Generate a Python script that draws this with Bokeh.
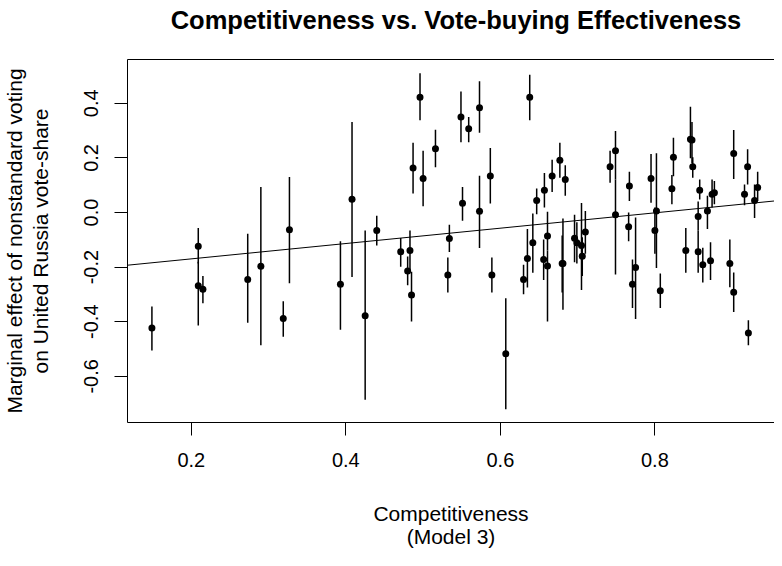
from bokeh.plotting import figure
from bokeh.layouts import column
from bokeh.models import Range1d, FixedTicker, LinearAxis, Slope, ColumnDataSource, Label
from bokeh.embed import file_html
from bokeh.resources import INLINE

# Competitiveness (x), marginal effect (y), and interval bounds
competitiveness = [0.149, 0.209, 0.209, 0.215, 0.273, 0.290, 0.319, 0.327, 0.393, 0.408,
                   0.425, 0.440, 0.471, 0.480, 0.483, 0.485, 0.487, 0.496, 0.500, 0.516,
                   0.532, 0.534, 0.549, 0.551, 0.559, 0.573, 0.573, 0.587, 0.589, 0.607,
                   0.630, 0.635, 0.638, 0.642, 0.647, 0.656, 0.657, 0.661, 0.661, 0.667,
                   0.677, 0.680, 0.681, 0.684, 0.696, 0.699, 0.705, 0.706, 0.710, 0.742,
                   0.749, 0.749, 0.766, 0.767, 0.771, 0.775, 0.795, 0.800, 0.802, 0.807,
                   0.822, 0.824, 0.840, 0.846, 0.848, 0.849, 0.856, 0.856, 0.858, 0.862,
                   0.868, 0.872, 0.874, 0.877, 0.897, 0.902, 0.902, 0.916, 0.920, 0.921,
                   0.929, 0.933]
effect = [-0.423, -0.124, -0.268, -0.281, -0.245, -0.197, -0.388, -0.063, -0.263, 0.049,
          -0.378, -0.066, -0.144, -0.214, -0.139, -0.302, 0.163, 0.422, 0.125, 0.234,
          -0.229, -0.095, 0.350, 0.034, 0.307, 0.384, 0.005, 0.134, -0.229, -0.517,
          -0.245, -0.168, 0.422, -0.111, 0.044, -0.172, 0.082, -0.086, -0.196, 0.134,
          0.191, -0.187, -0.187, 0.121, -0.094, -0.111, -0.121, -0.160, -0.071, 0.168,
          0.226, -0.008, -0.052, 0.097, -0.263, -0.201, 0.125, -0.066, 0.006, -0.287,
          0.087, 0.202, -0.139, 0.268, 0.266, 0.168, -0.015, -0.144, 0.082, -0.191,
          0.006, -0.177, 0.067, 0.072, -0.187, 0.216, -0.292, 0.067, 0.168, -0.441,
          0.044, 0.092]
upper = [-0.344, -0.057, -0.180, -0.233, -0.078, 0.093, -0.325, 0.130, -0.105, 0.332,
         -0.066, -0.012, -0.093, -0.161, -0.066, -0.217, 0.256, 0.510, 0.226, 0.303,
         -0.165, -0.045, 0.443, 0.093, 0.350, 0.481, 0.135, 0.236, -0.165, -0.314,
         -0.191, -0.060, 0.505, -0.004, 0.088, -0.099, 0.145, 0.003, -0.139, 0.193,
         0.256, -0.084, -0.022, 0.173, -0.008, -0.036, 0.035, -0.091, 0.006, 0.226,
         0.299, 0.121, 0.000, 0.149, -0.172, -0.018, 0.214, 0.018, 0.217, -0.223,
         0.137, 0.274, -0.057, 0.387, 0.332, 0.202, 0.040, -0.066, 0.121, -0.129,
         0.061, -0.109, 0.121, 0.115, -0.099, 0.302, -0.220, 0.103, 0.232, -0.395,
         0.103, 0.149]
lower = [-0.505, -0.187, -0.414, -0.332, -0.404, -0.486, -0.455, -0.259, -0.429, -0.236,
         -0.686, -0.121, -0.199, -0.266, -0.210, -0.399, 0.070, 0.338, 0.023, 0.166,
         -0.293, -0.145, 0.257, -0.030, 0.257, 0.292, -0.130, 0.033, -0.293, -0.721,
         -0.299, -0.275, 0.338, -0.221, -0.006, -0.247, 0.018, -0.139, -0.399, 0.075,
         0.127, -0.293, -0.356, 0.061, -0.182, -0.187, -0.284, -0.233, -0.151, 0.109,
         0.121, -0.227, -0.105, 0.042, -0.350, -0.390, 0.036, -0.151, -0.203, -0.350,
         0.030, 0.133, -0.221, 0.199, 0.180, 0.127, -0.066, -0.221, 0.048, -0.256,
         -0.060, -0.247, 0.018, 0.030, -0.274, 0.123, -0.364, 0.027, 0.103, -0.486,
         -0.020, 0.042]

fit_intercept = -0.226
fit_slope = 0.281

x_ticks = [0.2, 0.4, 0.6, 0.8]
y_ticks = [-0.6, -0.4, -0.2, 0.0, 0.2, 0.4]
y_tick_labels = {-0.6: "-0.6", -0.4: "-0.4", -0.2: "-0.2", 0.0: "0.0", 0.2: "0.2", 0.4: "0.4"}

title_text = "Competitiveness vs. Vote-buying Effectiveness"
x_label = "Competitiveness\n(Model 3)"
y_label = "Marginal effect of nonstandard voting\non United Russia vote-share"

FONT = "Liberation Sans"

# ---- title strip (its frame is aligned with the main plot's frame) ----------
head = figure(width=774, height=49, output_backend="svg", toolbar_location=None,
              x_range=Range1d(0, 1), y_range=Range1d(0, 1), min_border=0,
              x_axis_location=None, y_axis_location=None)
head.outline_line_color = None
head.background_fill_color = "white"
head.border_fill_color = "white"
head.grid.visible = False
head.add_layout(Label(x=328.5, y=30, x_units="screen", y_units="screen", text=title_text,
                      text_align="center", text_baseline="alphabetic", text_font=FONT,
                      text_font_size="25.5px", text_font_style="bold", text_color="black"))

# ---- main plot ---------------------------------------------------------------
src = ColumnDataSource(dict(x=competitiveness, y=effect, lo=lower, hi=upper))

p = figure(width=774, height=501, output_backend="svg", toolbar_location=None,
           x_range=Range1d(0.1174, 0.9548), y_range=Range1d(-0.7692, 0.5605),
           min_border_left=125, min_border_right=0, min_border_top=10, min_border_bottom=124,
           x_axis_location=None, y_axis_location=None)
p.outline_line_color = None
p.background_fill_color = "white"
p.border_fill_color = "white"
p.grid.visible = False

def style_axis(ax, ticks):
    ax.ticker = FixedTicker(ticks=ticks)
    ax.axis_line_color = "black"
    ax.axis_line_width = 1
    ax.major_tick_line_color = "black"
    ax.major_tick_in = 0
    ax.major_tick_out = 13
    ax.minor_tick_line_color = None
    ax.major_label_text_font = FONT
    ax.major_label_text_font_size = "20px"
    ax.major_label_text_color = "black"
    ax.axis_label_text_font = FONT
    ax.axis_label_text_font_size = "21px"
    ax.axis_label_text_font_style = "normal"
    ax.axis_label_text_color = "black"

xax = LinearAxis(axis_label=x_label)
style_axis(xax, x_ticks)
xax.major_label_standoff = 17
xax.axis_label_standoff = 32
xax.axis_label_text_line_height = 1.0
p.add_layout(xax, "below")

yax = LinearAxis(axis_label=y_label)
style_axis(yax, y_ticks)
yax.major_label_orientation = "vertical"
yax.major_label_overrides = y_tick_labels
yax.major_label_standoff = 16
yax.axis_label_standoff = 30
yax.axis_label_text_line_height = 1.1
p.add_layout(yax, "left")

# top edge of the box
top = LinearAxis(ticker=FixedTicker(ticks=[]))
top.axis_line_color = "black"
top.major_tick_line_color = None
top.minor_tick_line_color = None
top.major_tick_out = 0
top.major_tick_in = 0
top.major_label_standoff = 0
top.major_label_text_font_size = "0px"
p.add_layout(top, "above")

p.segment(x0="x", y0="lo", x1="x", y1="hi", source=src, line_color="black", line_width=1.5)
p.scatter(x="x", y="y", source=src, size=7, fill_color="black", line_color="black", line_width=0)
p.add_layout(Slope(gradient=fit_slope, y_intercept=fit_intercept, line_color="black", line_width=1))

layout = column(head, p, spacing=0)
open("out.html", "w").write(file_html(layout, INLINE))
